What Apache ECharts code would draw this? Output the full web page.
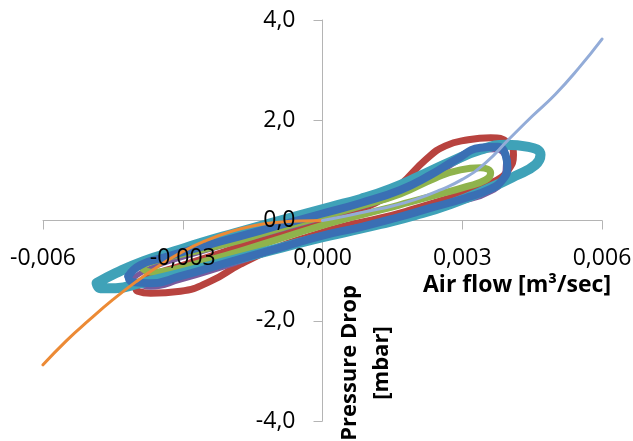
<!DOCTYPE html>
<html>
<head>
<meta charset="utf-8">
<script src="https://cdn.jsdelivr.net/npm/echarts@6/dist/echarts.min.js"></script>
<style>
  html, body { margin: 0; padding: 0; background: #fff; }
  #chart { width: 633px; height: 441px; }
</style>
</head>
<body>
<div id="chart"></div>
<script>
// Air flow [m3/sec] vs pressure drop [mbar]: measured hysteresis loops plus two fitted curves
const xTicks = [-0.006, -0.003, 0, 0.003, 0.006];
const yTicks = [-4, -2, 0, 2, 4];

const loopRed = [
  [-0.00401,-1.33],[-0.00369,-1.11],[-0.00305,-0.91],[-0.00219,-0.65],[-0.00133,-0.39],
  [-0.00047,-0.15],[0.00039,0.09],[0.00114,0.35],[0.00167,0.71],[0.00221,1.21],
  [0.00264,1.49],[0.00313,1.61],[0.00361,1.65],[0.00399,1.55],[0.00410,1.31],
  [0.00399,1.01],[0.00371,0.79],[0.00318,0.59],[0.00253,0.39],[0.00189,0.21],
  [0.00125,0.05],[0.00049,-0.11],[-0.00026,-0.31],[-0.00101,-0.55],[-0.00176,-0.87],
  [-0.00240,-1.21],[-0.00305,-1.41],[-0.00369,-1.45],[-0.00397,-1.41],[-0.00401,-1.33]
];
const loopPurple = [
  [-0.00412,-1.19],[-0.00369,-0.95],[-0.00262,-0.63],[-0.00155,-0.35],[-0.00047,-0.07],
  [0.00060,0.21],[0.00167,0.53],[0.00253,0.97],[0.00318,1.31],[0.00371,1.41],
  [0.00393,1.17],[0.00389,0.85],[0.00361,0.57],[0.00296,0.37],[0.00210,0.17],
  [0.00125,-0.03],[0.00039,-0.23],[-0.00047,-0.45],[-0.00133,-0.69],[-0.00219,-0.95],
  [-0.00305,-1.19],[-0.00369,-1.33],[-0.00412,-1.19]
];
const loopGreen = [
  [-0.00391,-0.91],[-0.00348,-0.77],[-0.00262,-0.59],[-0.00176,-0.39],[-0.00090,-0.15],
  [-0.00004,0.07],[0.00082,0.29],[0.00167,0.53],[0.00243,0.85],[0.00296,1.01],
  [0.00339,1.05],[0.00361,0.95],[0.00350,0.81],[0.00307,0.67],[0.00253,0.53],
  [0.00189,0.37],[0.00125,0.21],[0.00049,0.03],[-0.00026,-0.17],[-0.00101,-0.39],
  [-0.00176,-0.61],[-0.00251,-0.81],[-0.00316,-0.97],[-0.00369,-1.03],[-0.00391,-0.91]
];
const loopTeal = [
  [-0.00485,-1.25],[-0.00444,-1.05],[-0.00384,-0.81],[-0.00316,-0.61],[-0.00262,-0.45],
  [-0.00187,-0.25],[-0.00118,-0.07],[-0.00047,0.11],[0.00017,0.27],[0.00082,0.43],
  [0.00146,0.63],[0.00210,0.89],[0.00275,1.17],[0.00339,1.41],[0.00393,1.51],
  [0.00442,1.47],[0.00468,1.31],[0.00457,1.11],[0.00414,0.89],[0.00350,0.61],
  [0.00275,0.33],[0.00200,0.11],[0.00125,-0.07],[0.00049,-0.23],[-0.00026,-0.39],
  [-0.00101,-0.57],[-0.00176,-0.75],[-0.00251,-0.93],[-0.00326,-1.11],[-0.00391,-1.25],
  [-0.00444,-1.35],[-0.00477,-1.35],[-0.00485,-1.25]
];
const loopBlue = [
  [-0.00417,-1.11],[-0.00391,-0.89],[-0.00337,-0.73],[-0.00262,-0.53],[-0.00176,-0.31],
  [-0.00090,-0.09],[-0.00004,0.13],[0.00082,0.35],[0.00167,0.61],[0.00232,0.91],
  [0.00286,1.21],[0.00339,1.45],[0.00376,1.47],[0.00393,1.31],[0.00397,1.05],
  [0.00386,0.81],[0.00361,0.63],[0.00307,0.45],[0.00232,0.25],[0.00157,0.05],
  [0.00082,-0.13],[-0.00004,-0.31],[-0.00079,-0.51],[-0.00155,-0.71],[-0.00230,-0.91],
  [-0.00305,-1.11],[-0.00369,-1.25],[-0.00408,-1.23],[-0.00417,-1.11]
];
const fitNegative = [
  [-0.0060,-2.88],[-0.0055,-2.40],[-0.0050,-1.98],[-0.0045,-1.58],[-0.0040,-1.22],
  [-0.0035,-0.90],[-0.0030,-0.62],[-0.0025,-0.40],[-0.0020,-0.23],[-0.0015,-0.11],
  [-0.0010,-0.04],[-0.0005,-0.01],[0.0000,0.00]
];
const fitPositive = [
  [0.0000,0.00],[0.0005,0.09],[0.0010,0.19],[0.0015,0.29],[0.0020,0.42],
  [0.0025,0.60],[0.0030,0.82],[0.0035,1.15],[0.0040,1.62],[0.0045,2.08],
  [0.0050,2.52],[0.0055,3.04],[0.0060,3.62]
];

const FONT = '"Open Sans", "Noto Sans", sans-serif';
const AXIS_GREY = '#b4b4b4';

function lineSeries(name, data, color, width) {
  return {
    name: name,
    type: 'line',
    data: data,
    xAxisIndex: 0,
    yAxisIndex: 0,
    smooth: 0.5,
    showSymbol: false,
    symbol: 'none',
    lineStyle: { color: color, width: width, cap: 'round', join: 'round' },
    itemStyle: { color: color },
    emphasis: { disabled: true },
    z: 2
  };
}

const xMin = xTicks[0], xMax = xTicks[xTicks.length - 1];
const yMin = yTicks[0], yMax = yTicks[yTicks.length - 1];
const xStep = 0.003, yStep = 2;

const fmtX = v => (Math.abs(v) < 1e-12 ? 0 : v).toFixed(3).replace('.', ',');
const fmtY = v => (Math.abs(v) < 1e-12 ? 0 : v).toFixed(1).replace('.', ',');

// axis 0 of each dimension: line and ticks crossing at zero, under the data;
// axis 1: tick labels only, drawn above the data and shifted onto the zero lines below
function lineAxis(min, max, step, position) {
  return {
    type: 'value', min: min, max: max, interval: step, position: position,
    axisLine: { show: true, onZero: true, lineStyle: { color: AXIS_GREY, width: 1 } },
    axisTick: { show: true, inside: false, length: 9, lineStyle: { color: AXIS_GREY } },
    axisLabel: { show: false },
    splitLine: { show: false },
    z: 0
  };
}
function labelAxis(min, max, step, position, margin, fmt) {
  return {
    type: 'value', min: min, max: max, interval: step, position: position, offset: 0,
    axisLine: { show: false, onZero: false },
    axisTick: { show: false },
    axisLabel: { show: true, margin: margin, color: '#000', fontSize: 23, fontFamily: FONT, formatter: fmt },
    splitLine: { show: false },
    z: 10
  };
}

const chart = echarts.init(document.getElementById('chart'), null, { renderer: 'canvas' });
chart.setOption({
  animation: false,
  backgroundColor: '#ffffff',
  grid: { left: 43, right: 31, top: 20, bottom: 20, containLabel: false, outerBoundsMode: 'none' },
  xAxis: [
    lineAxis(xMin, xMax, xStep, 'bottom'),
    labelAxis(xMin, xMax, xStep, 'bottom', 26, fmtX)
  ],
  yAxis: [
    lineAxis(yMin, yMax, yStep, 'left'),
    labelAxis(yMin, yMax, yStep, 'left', 27, fmtY)
  ],
  series: [
    lineSeries('Loop 2', loopRed, '#b8433f', 7),
    lineSeries('Loop 4', loopPurple, '#7a5a9c', 5),
    lineSeries('Loop 3', loopGreen, '#8fb34c', 7),
    lineSeries('Loop 5', loopTeal, '#3fa2b8', 10),
    lineSeries('Loop 1', loopBlue, '#3a6fb4', 8),
    lineSeries('Fit (-)', fitNegative, '#ec8a35', 3),
    lineSeries('Fit (+)', fitPositive, '#93acd8', 3)
  ],
  graphic: [
    {
      type: 'text', x: 517, y: 285, z: 20,
      style: {
        text: 'Air flow [m³/sec]', fill: '#000',
        font: 'bold 23px ' + FONT, align: 'center', verticalAlign: 'middle'
      }
    },
    {
      type: 'text', x: 366, y: 363, rotation: Math.PI / 2, z: 20,
      style: {
        text: 'Pressure Drop\n[mbar]', fill: '#000',
        font: 'bold 22px ' + FONT, align: 'center', verticalAlign: 'middle',
        lineHeight: 32
      }
    }
  ]
});

// move the label axes from the grid edges to where the scales put zero
const origin = chart.convertToPixel({ gridIndex: 0 }, [0, 0]);
const corner = chart.convertToPixel({ gridIndex: 0 }, [xMin, yMin]);
chart.setOption({
  xAxis: [{}, { offset: origin[1] - corner[1] }],
  yAxis: [{}, { offset: corner[0] - origin[0] }]
});
</script>
</body>
</html>
